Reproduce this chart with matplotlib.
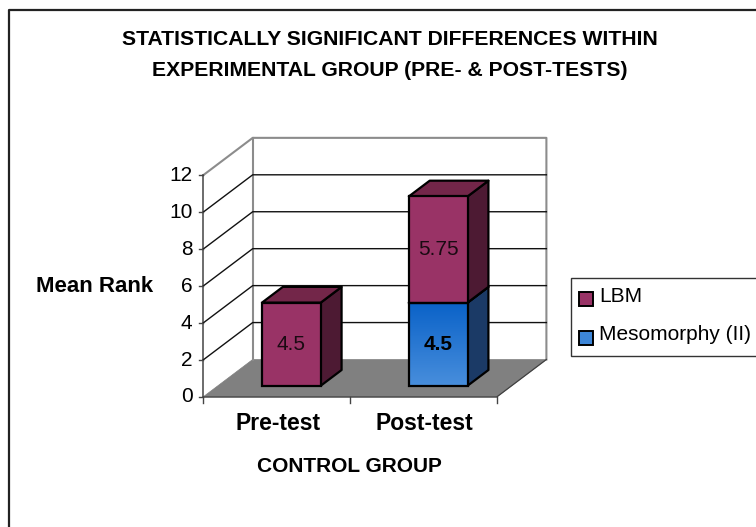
#!/usr/bin/env python3
import numpy as np
import matplotlib
matplotlib.use("Agg")
import matplotlib.pyplot as plt
from matplotlib.patches import Polygon, Rectangle

plt.rcParams["font.family"] = ["Liberation Sans", "DejaVu Sans"]

CATEGORIES = ["Pre-test", "Post-test"]
MESOMORPHY = [0, 4.5]
LBM = [4.5, 5.75]
Y_TICKS = [0, 2, 4, 6, 8, 10, 12]
TITLE = "STATISTICALLY SIGNIFICANT DIFFERENCES WITHIN\nEXPERIMENTAL GROUP (PRE- & POST-TESTS)"

W, H = 756, 527
# pixel position of the plot's front corner and scale of the axes
PX0, PY0 = 203.0, 397.0
PX_CAT, PX_VAL = 146.85, 18.47
DX, DY = 49.7 / PX_CAT, 37.5 / PX_VAL   # depth shift, in data units
BAR_W = 0.4
D0, D1 = 0.30, 0.72

fig = plt.figure(figsize=(W / 100, H / 100), dpi=100)
ax = fig.add_axes([0, 0, 1, 1])
ax.axis("off")


def pr(x, y, d=0.0):
    return (x + DX * d, y + DY * d)


def poly(pts, **kw):
    ax.add_patch(Polygon(pts, closed=True, **kw))


def to_data(px, py):
    return ((px - PX0) / PX_CAT, (PY0 - py) / PX_VAL)


# outer frame, only left and top are on the picture
fx0, fy0 = to_data(9.5, 9.5)
fx1, fy1 = to_data(W, H)
ax.plot([fx1, fx0, fx0], [fy0, fy0, fy1], color="#222222", lw=1.6, zorder=1)

# walls and floor
top, xmax = Y_TICKS[-1], len(CATEGORIES)
wall = "#8c8c8c"
poly([pr(0, 0), pr(0, 0, 1), pr(xmax, 0, 1), pr(xmax, 0)], fc="#808080", ec="#808080", lw=0.5, zorder=2)
ax.plot(*zip(pr(0, top), pr(0, top, 1), pr(xmax, top, 1), pr(xmax, 0, 1)), color=wall, lw=1.5, zorder=3)
ax.plot(*zip(pr(0, 0, 1), pr(0, top, 1)), color=wall, lw=1.5, zorder=3)
ax.plot(*zip(pr(0, 0), pr(xmax, 0), pr(xmax, 0, 1)), color="#404040", lw=0.9, zorder=3)
ax.plot(*zip(pr(0, 0), pr(0, top)), color="#444444", lw=1.1, zorder=3)

for v in Y_TICKS[1:-1]:
    ax.plot(*zip(pr(0, v), pr(0, v, 1), pr(xmax, v, 1)), color="#111111", lw=1.0, zorder=3)
for v in Y_TICKS:
    ax.plot(*zip(pr(0, v), (-4 / PX_CAT, v)), color="#444444", lw=1.0, zorder=3)
    ax.text(-10.5 / PX_CAT, v, str(v), ha="right", va="center", fontsize=15, color="black", zorder=6)
for i in range(len(CATEGORIES) + 1):
    ax.plot([i, i], [0, -6 / PX_VAL], color="#444444", lw=1.0, zorder=3)


def draw_segment(i, base, val, front, side, roof, gradient=None):
    x0, x1 = i + 0.5 - BAR_W / 2, i + 0.5 + BAR_W / 2
    y0, y1 = base, base + val
    zo = 4 + base * 0.01
    poly([pr(x1, y0, D0), pr(x1, y0, D1), pr(x1, y1, D1), pr(x1, y1, D0)], fc=side, ec="black", lw=1.6, zorder=zo, joinstyle="round")
    poly([pr(x0, y1, D0), pr(x0, y1, D1), pr(x1, y1, D1), pr(x1, y1, D0)], fc=roof, ec="black", lw=1.6, zorder=zo, joinstyle="round")
    fx, fy = pr(x0, y0, D0)
    fx2, fy2 = pr(x1, y1, D0)
    if gradient is None:
        ax.add_patch(Rectangle((fx, fy), fx2 - fx, fy2 - fy, fc=front, ec="black", lw=1.6, zorder=zo + 0.1))
    else:
        ax.imshow(gradient, extent=(fx, fx2, fy, fy2), aspect="auto", zorder=zo + 0.1, interpolation="bilinear", origin="upper")
        ax.add_patch(Rectangle((fx, fy), fx2 - fx, fy2 - fy, fc="none", ec="black", lw=1.6, zorder=zo + 0.2))


# vertical gradient of the blue segment, top colour to bottom colour
blue_top = np.array([10, 98, 200]) / 255
blue_bot = np.array([72, 142, 220]) / 255
grad = np.linspace(blue_top, blue_bot, 64).reshape(64, 1, 3)

for i in range(len(CATEGORIES)):
    base = 0
    if MESOMORPHY[i]:
        draw_segment(i, base, MESOMORPHY[i], None, "#1b3a66", "#0d3a70", gradient=grad)
        cx, cy = pr(i + 0.5, base + MESOMORPHY[i] / 2, D0)
        ax.text(cx, cy, str(MESOMORPHY[i]), ha="center", va="center", fontsize=15, fontweight="bold", zorder=7)
        base += MESOMORPHY[i]
    draw_segment(i, base, LBM[i], "#993366", "#4d1a33", "#732649")
    cx, cy = pr(i + 0.5, base + LBM[i] / 2, D0)
    ax.text(cx, cy, str(LBM[i]), ha="center", va="center", fontsize=15, color="#1a0a12", zorder=7)

# category labels and titles
for i, c in enumerate(CATEGORIES):
    ax.text(i + 0.5 + 0.01, (PY0 - 423) / PX_VAL, c, ha="center", va="center", fontsize=16.5, fontweight="bold")
tx, ty = to_data(349, 466)
ax.text(tx, ty, "CONTROL GROUP", ha="center", va="center", fontsize=15, fontweight="bold")
tx, ty = to_data(95, 286)
ax.text(tx, ty, "Mean Rank", ha="center", va="center", fontsize=16, fontweight="bold")
tx, ty = to_data(390, 55)
ax.text(tx, ty, TITLE, ha="center", va="center", fontsize=15.2, fontweight="bold", linespacing=1.8)

# legend drawn by hand, the box runs off the picture on the right
lx0, ly0 = to_data(571, 278)
lx1, ly1 = to_data(W + 5, 356)
ax.add_patch(Rectangle((lx0, ly1), lx1 - lx0, ly0 - ly1, fc="white", ec="#333333", lw=1.0, zorder=5))
sw, sh = 14 / PX_CAT, 14 / PX_VAL
for name, col, py in [("LBM", "#993366", 296), ("Mesomorphy (II)", "#3d86d8", 335)]:
    sx, sy = to_data(578.5, py + 10)
    ax.add_patch(Rectangle((sx, sy), sw, sh, fc=col, ec="black", lw=1.4, zorder=6))
    tx, ty = to_data(599, py)
    ax.text(tx, ty, name, ha="left", va="center", fontsize=15, zorder=6)

ax.set_xlim(-PX0 / PX_CAT, (W - PX0) / PX_CAT)
ax.set_ylim((PY0 - H) / PX_VAL, PY0 / PX_VAL)
fig.savefig("out.png", dpi=100)
